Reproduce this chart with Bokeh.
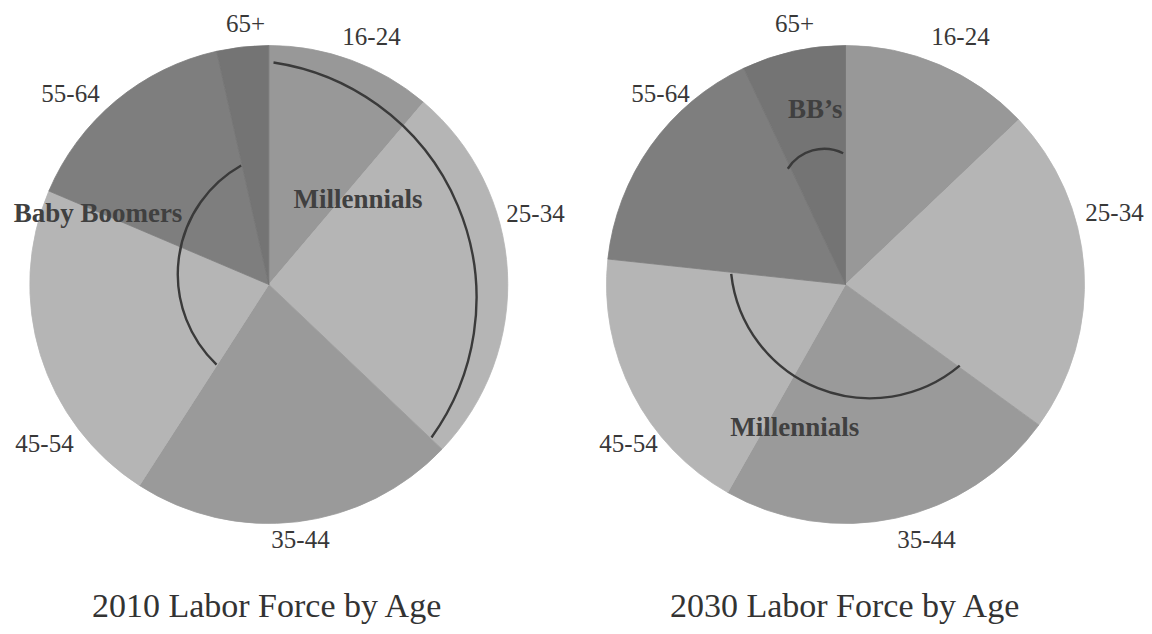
import math
from bokeh.plotting import figure
from bokeh.models import Range1d, ColumnDataSource
from bokeh.embed import file_html
from bokeh.resources import INLINE
from bokeh.core.properties import value

# ---------------- data ----------------
age_groups = ["16-24", "25-34", "35-44", "45-54", "55-64", "65+"]
share_2010 = [11.2, 25.9, 22.0, 22.3, 15.1, 3.5]
share_2030 = [12.9, 22.1, 23.2, 18.5, 16.3, 7.0]
titles = ["2010 Labor Force by Age", "2030 Labor Force by Age"]
slice_colors = ["#989898", "#b5b5b5", "#9a9a9a", "#b5b5b5", "#7e7e7e", "#747474"]

# generation groupings (indices of age groups covered by the bracket)
groups_2010 = [("Millennials", [0, 1]), ("Baby Boomers", [3, 4])]
groups_2030 = [("Millennials", [2, 3]), ("BB\u2019s", [5])]

# ---------------- layout (picture pixel coordinates) ----------------
PAGE_H = 634
W, H = 1144, 626
R = 239
centers = [(268.3, 284.0), (845.0, 284.0)]
TXT_SHIFT = 9  # baseline correction for text rendering

# label anchor points (center x, baseline y) per pie, per age group
label_pos = [
    [(371, 45), (535, 222), (300, 548), (44, 452), (70, 102), (245, 32)],
    [(960, 45), (1114, 221), (926, 548), (628, 452), (660, 102), (794, 32)],
]
group_label_pos = [
    [(357.5, 207), (97.5, 221)],
    [(794.3, 435), (814.7, 117)],
]
# bracket arcs: (dx, dy offset of arc centre from pie centre, radius, from, to) deg clockwise from top
bracket_geom = [
    [(-30.5, 13.6, 238.2, 8.5, 125.8), (33.8, -10.3, 124.8, 223.6, 330.5)],
    [(24.5, -25.8, 139.6, 140.0, 263.8), (-21.4, -92.7, 43.0, 302.4, 26.3)],
]
title_pos = [(267, 614), (845, 614)]


def Y(py):
    return PAGE_H - py


def TY(py):
    return PAGE_H - (py - TXT_SHIFT)


p = figure(width=W, height=H,
           x_range=Range1d(0, W), y_range=Range1d(PAGE_H - H, PAGE_H),
           output_backend="svg", toolbar_location=None,
           x_axis_location=None, y_axis_location=None, min_border=0)
p.grid.visible = False
p.outline_line_color = None
p.background_fill_color = "white"
p.border_fill_color = "white"

SERIF = "Liberation Serif"

for k, shares in enumerate([share_2010, share_2030]):
    cx, cy = centers[k]
    total = sum(shares)
    starts, ends = [], []
    acc = 0.0
    for s in shares:
        a1 = acc / total * 360.0
        acc += s
        a2 = acc / total * 360.0
        starts.append(math.radians(90 - a1))
        ends.append(math.radians(90 - a2))
    src = ColumnDataSource(dict(
        x=[cx] * len(shares), y=[Y(cy)] * len(shares),
        start=starts, end=ends, color=slice_colors, group=age_groups))
    p.wedge(x="x", y="y", radius=R, start_angle="start", end_angle="end",
            direction="clock", fill_color="color", line_color="color",
            line_width=0.8, source=src)

    # bracket arcs
    for (dx, dy, r, a1, a2) in bracket_geom[k]:
        p.arc(x=[cx + dx], y=[Y(cy + dy)], radius=r,
              start_angle=math.radians(90 - a1), end_angle=math.radians(90 - a2),
              direction="clock", line_color="#3a3a3a", line_width=2.4)

    # age labels
    lx = [pt[0] for pt in label_pos[k]]
    ly = [TY(pt[1]) for pt in label_pos[k]]
    p.text(x=lx, y=ly, text=age_groups, text_font=value(SERIF),
           text_font_size="25px", text_color="#383838",
           text_align="center", text_baseline="alphabetic")

    # generation labels
    groups = groups_2010 if k == 0 else groups_2030
    gx = [pt[0] for pt in group_label_pos[k]]
    gy = [TY(pt[1]) for pt in group_label_pos[k]]
    p.text(x=gx, y=gy, text=[g[0] for g in groups], text_font=value(SERIF),
           text_font_size="27px", text_font_style="bold", text_color="#404040",
           text_align="center", text_baseline="alphabetic")

    # title
    p.text(x=[title_pos[k][0]], y=[TY(title_pos[k][1])], text=[titles[k]],
           text_font=value(SERIF), text_font_size="34px", text_color="#333333",
           text_align="center", text_baseline="alphabetic")

open("out.html", "w").write(file_html(p, INLINE))
